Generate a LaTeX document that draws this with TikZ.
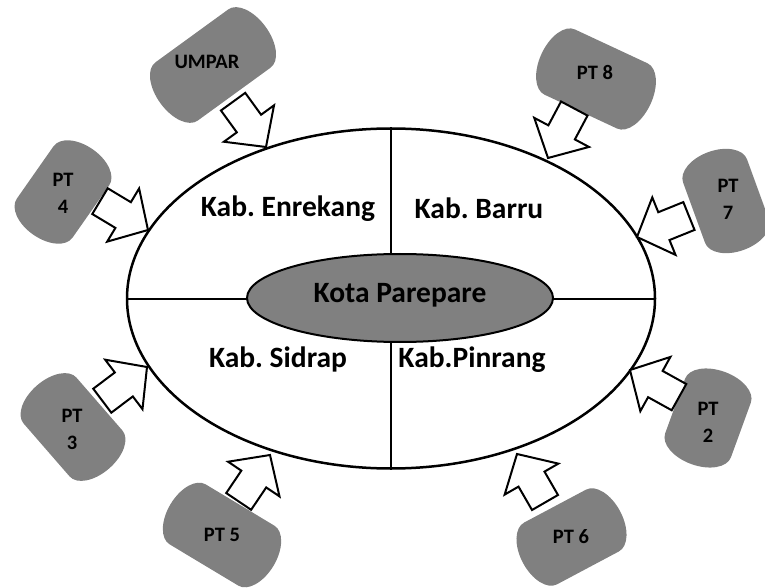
\documentclass[tikz,border=0pt]{standalone}
\usepackage{fontspec}
\setmainfont{Carlito}
\usetikzlibrary{shapes.geometric}
\definecolor{blobgray}{gray}{0.5}
\frenchspacing

\tikzset{
  blob/.style={fill=blobgray},
  blocktip/.style={draw=black, fill=white, line width=2pt, line join=miter},
  ptlabel/.style={font=\fontsize{20.5}{27}\selectfont\bfseries, align=center, inner sep=0pt},
  kablabel/.style={font=\fontsize{29.5}{32}\selectfont\bfseries, inner sep=0pt},
}

\begin{document}
\begin{tikzpicture}[x=1pt,y=1pt]
    \useasboundingbox (0,0) rectangle (765,587);
    % wilayah
    \node [ellipse, draw, line width=2.5pt, minimum width=528, minimum height=340, inner sep=0pt] (region) at (391,288.5) {};
    \draw [line width=2pt] (region.west) -- (region.east);
    \draw [line width=2pt] (region.north) -- (region.south);
    \node [ellipse, draw, fill=blobgray, line width=2pt, minimum width=306, minimum height=88] (parepare) at (400,289) {};
    \node [kablabel, anchor=base] (kota) at (400,285) {Kota Parepare};
    \node [kablabel, anchor=base] (enrekang) at (288,370) {Kab. Enrekang};
    \node [kablabel, anchor=base] (barru) at (479,368) {Kab. Barru};
    \node [kablabel, anchor=base] (sidrap) at (278,220) {Kab. Sidrap};
    \node [kablabel, anchor=base] (pinrang) at (472,220) {Kab.Pinrang};
    % PT
    \foreach \cx/\cy/\ang/\len/\wid in {213/522/36/45/36, 596/508/-25/40/36, 726/386/-70/32/34, 63/395/55/32/34, 73/160/-49/35/35, 222/52/-31/40/35, 571.5/50/28/35/35, 708/169/70/29/35}
        \fill [blob, shift={(\cx,\cy)}, rotate=\ang] (-\len,-\wid) -- (\len,-\wid) arc [start angle=-90, end angle=90, x radius=20, y radius=\wid] -- (-\len,\wid) arc [start angle=90, end angle=270, x radius=20, y radius=\wid] -- cycle;
    \foreach \tx/\ty/\ang in {266/440/-54, 548/429/-118, 637/350/202, 148/357/-31, 147/220/37, 270/132/56, 517/133/120, 630/217/151}
        \draw [blocktip, shift={(\tx,\ty)}, rotate=\ang] (0,0) -- (-29,31) -- (-29,15) -- (-56,15) -- (-56,-15) -- (-29,-15) -- (-29,-31) -- cycle;
    \node [ptlabel] (umpar) at (207,525) {UMPAR};
    \node [ptlabel] (pt8) at (595,514) {PT 8};
    \node [ptlabel] (pt7) at (728,388) {PT\\7};
    \node [ptlabel] (pt4) at (63,394) {PT\\4};
    \node [ptlabel] (pt3) at (72,158) {PT\\3};
    \node [ptlabel] (pt5) at (222,52) {PT 5};
    \node [ptlabel] (pt6) at (571,50) {PT 6};
    \node [ptlabel] (pt2) at (708,165) {PT\\2};
\end{tikzpicture}
\end{document}
